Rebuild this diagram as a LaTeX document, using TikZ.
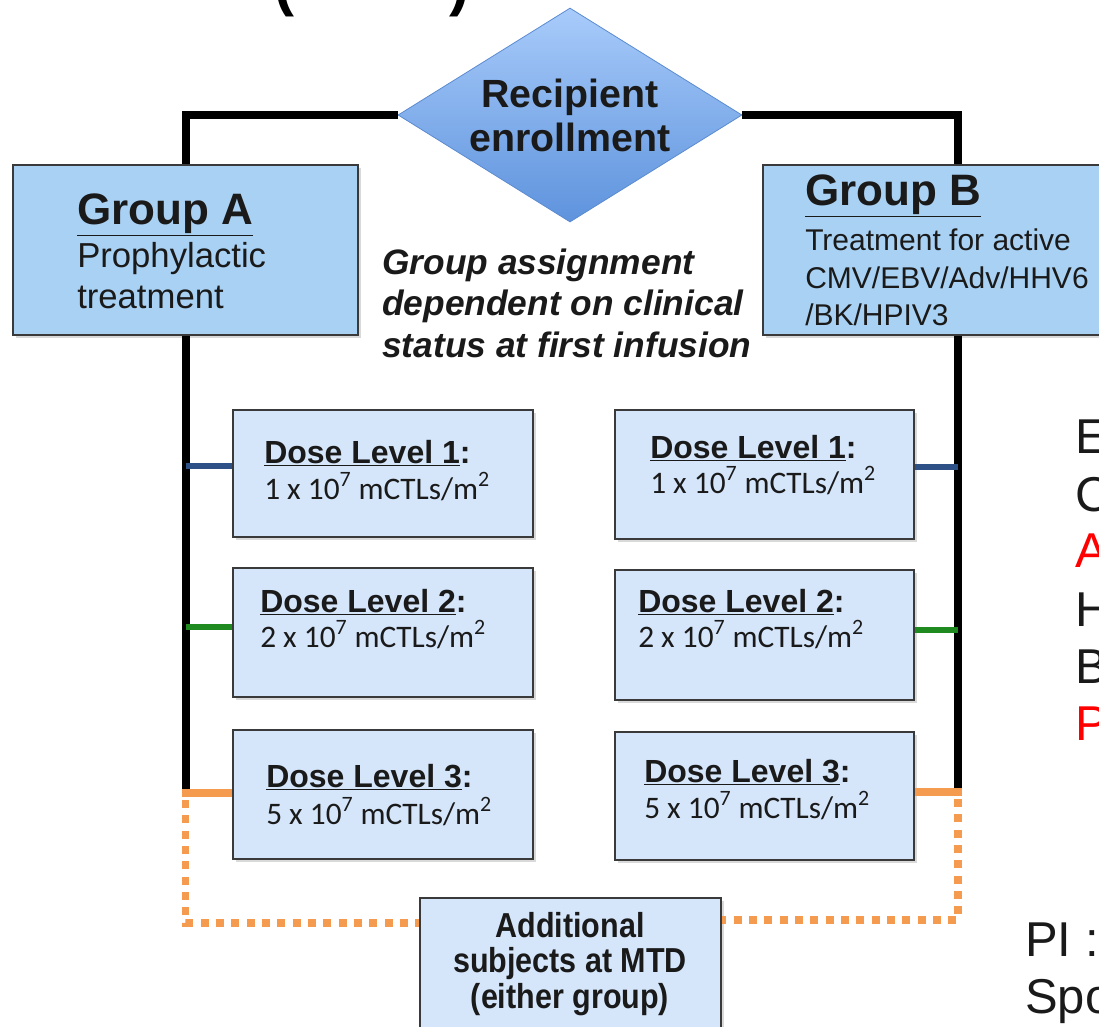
\documentclass[tikz,border=0pt]{standalone}
\usepackage{fontspec}
\setmainfont{Liberation Sans}
\newfontfamily\calib{Carlito}
\newfontfamily\narrowfont[FakeStretch=0.88]{Liberation Sans}
\usetikzlibrary{shapes.geometric,shadows,calc,fit}
\definecolor{grpfill}{HTML}{A9D1F3}
\definecolor{dosefill}{HTML}{D5E6FB}
\definecolor{boxedge}{HTML}{3A3A3A}
\definecolor{diamtop}{HTML}{A8CBFA}
\definecolor{diambot}{HTML}{5E93DD}
\definecolor{diamedge}{HTML}{5B8BD0}
\definecolor{navyc}{HTML}{2D5087}
\definecolor{grnc}{HTML}{1F8A1F}
\definecolor{orngc}{HTML}{F59B50}
\definecolor{txt}{HTML}{1A1A1A}
\definecolor{redc}{HTML}{FF0000}
\begin{document}
\begin{tikzpicture}[x=0.75pt,y=-0.75pt,
  grpbox/.style={draw=boxedge, line width=0.8pt, fill=grpfill, inner sep=0pt,
    drop shadow={opacity=0.3, shadow xshift=2pt, shadow yshift=-2pt}},
  dosebox/.style={draw=boxedge, line width=0.8pt, fill=dosefill, inner sep=0pt,
    drop shadow={opacity=0.3, shadow xshift=2pt, shadow yshift=-2pt}},
  txtl/.style={anchor=base west, inner sep=0pt, text=txt},
  txtc/.style={anchor=base, inner sep=0pt, text=txt},
  head/.style={txtl, font=\fontsize{33}{38}\selectfont\bfseries},
  body/.style={txtl, font=\fontsize{26}{30}\selectfont},
  bbody/.style={txtl, font=\fontsize{22.5}{27}\selectfont},
  ital/.style={txtl, font=\fontsize{26.5}{31}\selectfont\bfseries\itshape},
  dosehead/.style={txtl, font=\fontsize{24}{28}\selectfont\bfseries},
  dosenum/.style={txtl, font=\fontsize{23.5}{28}\selectfont\calib},
  addtxt/.style={txtc, font=\fontsize{26}{30}\selectfont\narrowfont\bfseries},
  side/.style={txtl, font=\fontsize{36.7}{42}\selectfont},
  blk/.style={draw=black, line width=6pt},
  navybar/.style={draw=navyc, line width=5pt},
  grnbar/.style={draw=grnc, line width=5pt},
  orngbar/.style={draw=orngc, line width=5.5pt},
  dots/.style={draw=orngc, line width=5.5pt, dash pattern=on 6pt off 5.5pt}
]
\useasboundingbox (0,0) rectangle (1099,1026);

% cut-off title fragments
\node[anchor=base, inner sep=0pt, font=\fontsize{45}{50}\selectfont\bfseries] (tpl) at (284,4) {(};
\node[anchor=base, inner sep=0pt, font=\fontsize{45}{50}\selectfont\bfseries] (tpr) at (459,4) {)};

% helper coordinates
\coordinate (rtop) at (958,115);
\coordinate (lb) at (185.5,790);
\coordinate (rb) at (958,790);
\coordinate (ld) at (185.5,923);
\coordinate (rd) at (958,920);

% diamond
\node[diamond, aspect=1.607, minimum width=258pt, minimum height=160.5pt,
  inner sep=0pt, top color=diamtop, bottom color=diambot, draw=diamedge,
  line width=0.6pt, align=center, text=txt,
  font=\fontsize{29.5}{34}\selectfont\bfseries] (diam) at (570,115) {Recipient\\[-1pt]enrollment};

% group boxes
\node[grpbox, fit={(13,165)(358,335)}] (gA) {};
\node[grpbox, fit={(763,165)(1125,335)}] (gB) {};

% main connectors
\draw[blk] (diam.west) -| (gA.north);
\draw[blk] (diam.east) -| (gB.north -| rtop);
\draw[blk] (gA.south) -- (gA.south |- lb);
\draw[blk] (gB.south -| rtop) -- (rb);

% group texts
\node[head] (gAh) at (77,224) {\underline{Group A}};
\node[body] (gA1) at (77,267) {Prophylactic};
\node[body] (gA2) at (77,308) {treatment};
\node[head] (gBh) at (805,205) {\underline{Group B}};
\node[bbody] (gB1) at (805,250) {Treatment for active};
\node[bbody] (gB2) at (805,288) {CMV/EBV/Adv/HHV6};
\node[bbody] (gB3) at (805,325) {/BK/HPIV3};

\node[ital] (it1) at (382,274) {Group assignment};
\node[ital] (it2) at (382,315) {dependent on clinical};
\node[ital] (it3) at (382,357) {status at first infusion};

% dose boxes
\node[dosebox, fit={(233,410)(533,537)}] (d1l) {};
\node[dosebox, fit={(233,568)(533,697)}] (d2l) {};
\node[dosebox, fit={(233,730)(533,859)}] (d3l) {};
\node[dosebox, fit={(615,410)(914,539)}] (d1r) {};
\node[dosebox, fit={(615,570)(914,700)}] (d2r) {};
\node[dosebox, fit={(615,732)(914,860)}] (d3r) {};

\node[dosehead] (t1l) at (264,463) {\underline{Dose Level 1}:};
\node[dosenum] (n1l) at (264,499) {1 x 10\textsuperscript{7} mCTLs/m\textsuperscript{2}};
\node[dosehead] (t2l) at (260,612) {\underline{Dose Level 2}:};
\node[dosenum] (n2l) at (260,647) {2 x 10\textsuperscript{7} mCTLs/m\textsuperscript{2}};
\node[dosehead] (t3l) at (266,787) {\underline{Dose Level 3}:};
\node[dosenum] (n3l) at (266,824) {5 x 10\textsuperscript{7} mCTLs/m\textsuperscript{2}};
\node[dosehead] (t1r) at (650,458) {\underline{Dose Level 1}:};
\node[dosenum] (n1r) at (650,493) {1 x 10\textsuperscript{7} mCTLs/m\textsuperscript{2}};
\node[dosehead] (t2r) at (638,612) {\underline{Dose Level 2}:};
\node[dosenum] (n2r) at (638,647) {2 x 10\textsuperscript{7} mCTLs/m\textsuperscript{2}};
\node[dosehead] (t3r) at (644,782) {\underline{Dose Level 3}:};
\node[dosenum] (n3r) at (644,818) {5 x 10\textsuperscript{7} mCTLs/m\textsuperscript{2}};

% side bars
\draw[navybar] (d1l.west |- 0,466) -- (lb |- 0,466);
\draw[navybar] (d1r.east |- 0,467) -- (rb |- 0,467);
\draw[grnbar] (d2l.west |- 0,627) -- (lb |- 0,627);
\draw[grnbar] (d2r.east |- 0,630) -- (rb |- 0,630);
\draw[orngbar] (d3l.west |- 0,793) -- ($(lb |- 0,793)+(-4,0)$);
\draw[orngbar] (d3r.east |- 0,792) -- ($(rb |- 0,792)+(4,0)$);

% additional box
\node[dosebox, fit={(420,898)(721,1045)}] (add) {};
\node[addtxt] (a1) at (570,937) {Additional};
\node[addtxt] (a2) at (570,972) {subjects at MTD};
\node[addtxt] (a3) at (570,1008) {(either group)};

% dotted links
\draw[dots] (185.5,800) -- (ld) -- (ld -| add.west);
\draw[dots] (958,799) -- (rd) -- (rd -| add.east);

% right-hand cut-off text
\node[side] (s1) at (1075,453) {E};
\node[side] (s2) at (1075,511) {C};
\node[side, text=redc] (s3) at (1075,567) {A};
\node[side] (s4) at (1075,626) {H};
\node[side] (s5) at (1075,683) {B};
\node[side, text=redc] (s6) at (1075,740) {P};
\node[side] (pi) at (1025,956) {PI :};
\node[side] (sp) at (1025,1013) {Spo};
\end{tikzpicture}
\end{document}
